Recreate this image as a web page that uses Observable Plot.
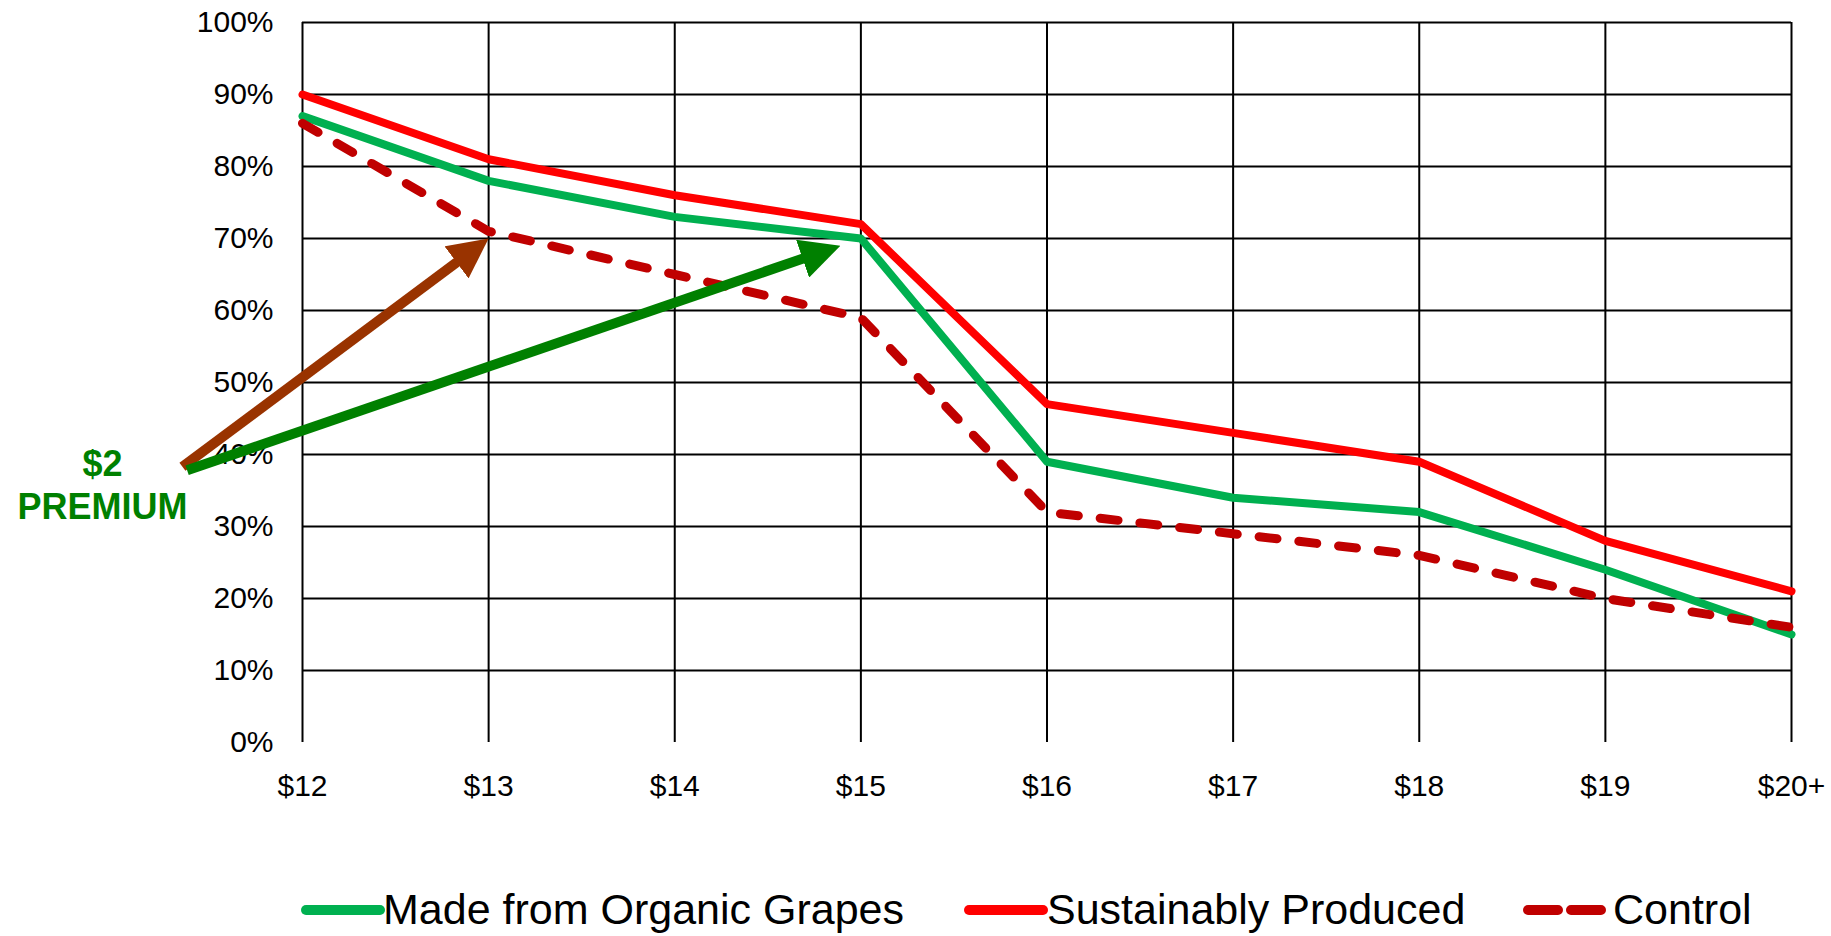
<!DOCTYPE html>
<html>
<head>
<meta charset="utf-8">
<script src="https://cdn.jsdelivr.net/npm/d3@7"></script>
<script src="https://cdn.jsdelivr.net/npm/@observablehq/plot@0.6"></script>
<style>
  body { margin: 0; background: #fff; width: 1831px; height: 936px; overflow: hidden; position: relative; font-family: "Liberation Sans", Arial, sans-serif; }
  #chart { position: absolute; left: 0; top: 0; }
  .legend-item { position: absolute; font-size: 43px; line-height: 42px; color: #000; white-space: nowrap; }
  .legend-swatch { position: absolute; }
</style>
</head>
<body>
<div id="chart"></div>
<div id="legend"></div>
<script>
// ---- data ----
const prices = ["$12", "$13", "$14", "$15", "$16", "$17", "$18", "$19", "$20+"];
const organic = [87, 78, 73, 70, 39, 34, 32, 24, 15];
const sustainable = [90, 81, 76, 72, 47, 43, 39, 28, 21];
const control = [86, 71, 65, 59, 32, 29, 26, 20, 16];
const seriesNames = ["Made from Organic Grapes", "Sustainably Produced", "Control"];
const seriesColors = ["#00b050", "#ff0000", "#c00000"];
const yTicks = [0, 10, 20, 30, 40, 50, 60, 70, 80, 90, 100];
// premium arrows (x in price-index units, y in %)
const arrowX1 = [-0.645, -0.62];
const arrowY1 = [38.3, 37.8];
const arrowX2 = [1.0, 2.89];
const arrowY2 = [70, 69];
const arrowColors = ["#993300", "#008000"];
const premiumLines = ["$2", "PREMIUM"];
const premiumX = [-1.075, -1.075];
const premiumY = [38.6, 32.7];

const idx = d3.range(prices.length);
const arrowIdx = d3.range(arrowX1.length);
const premIdx = d3.range(premiumLines.length);
const dataFor = vals => idx.map(i => ({i, v: vals[i]}));

const plot = Plot.plot({
  width: 1831,
  height: 830,
  marginTop: 22,
  marginLeft: 302,
  marginRight: 40,
  marginBottom: 88,
  style: { fontFamily: "Liberation Sans, Arial, sans-serif", fontSize: "30px", color: "#000", background: "transparent", overflow: "visible" },
  x: { type: "linear", domain: [0, prices.length - 1] },
  y: { domain: [0, 100] },
  marks: [
    Plot.gridY(yTicks.filter(d => d > 0), { stroke: "#000", strokeOpacity: 1, strokeWidth: 2 }),
    Plot.gridX(idx, { stroke: "#000", strokeOpacity: 1, strokeWidth: 2 }),
    Plot.axisY(yTicks, { label: null, tickSize: 0, tickPadding: 29, tickFormat: d => d + "%", fontSize: 30 }),
    Plot.axisX(idx, { label: null, tickSize: 0, tickPadding: 32, tickFormat: i => prices[i], fontSize: 30 }),
    Plot.line(dataFor(organic), { x: "i", y: "v", stroke: seriesColors[0], strokeWidth: 8, strokeLinejoin: "round" }),
    Plot.line(dataFor(sustainable), { x: "i", y: "v", stroke: seriesColors[1], strokeWidth: 8, strokeLinejoin: "round" }),
    Plot.line(dataFor(control), { x: "i", y: "v", stroke: seriesColors[2], strokeWidth: 9, strokeLinecap: "round", strokeLinejoin: "round", strokeDasharray: "18,22" }),
    Plot.link(arrowIdx, { x1: i => arrowX1[i], y1: i => arrowY1[i], x2: i => arrowX2[i], y2: i => arrowY2[i], stroke: i => arrowColors[i], strokeWidth: 10 }),
    Plot.text(premIdx, { x: i => premiumX[i], y: i => premiumY[i], text: i => premiumLines[i], fill: "#008000", fontWeight: "bold", fontSize: 36, textAnchor: "middle" })
  ]
});
document.getElementById("chart").appendChild(plot);

// arrowheads: filled triangles
const svg = d3.select(plot);
const defs = svg.append("defs");
const linkPaths = svg.selectAll('g[aria-label="link"] path');
linkPaths.each(function(d, k) {
  const color = d3.select(this).attr("stroke") || arrowColors[k];
  const id = "arrowhead-" + k;
  defs.append("marker")
    .attr("id", id)
    .attr("viewBox", "0 0 40 40")
    .attr("markerWidth", 40)
    .attr("markerHeight", 40)
    .attr("markerUnits", "userSpaceOnUse")
    .attr("refX", 40)
    .attr("refY", 20)
    .attr("orient", "auto")
    .append("path")
    .attr("d", "M0,0L40,20L0,40Z")
    .attr("fill", color);
  const len = this.getTotalLength();
  d3.select(this)
    .attr("marker-end", `url(#${id})`)
    .attr("stroke-dasharray", `${len - 25} ${len + 100}`);
});

// legend
const legend = document.getElementById("legend");
const swatchLeft = [306, 969, 1528];
const textLeft = [383, 1047, 1613];
seriesNames.forEach((name, k) => {
  const s = document.createElementNS("http://www.w3.org/2000/svg", "svg");
  s.setAttribute("class", "legend-swatch");
  s.setAttribute("width", 90);
  s.setAttribute("height", 20);
  s.style.left = (swatchLeft[k] - 5) + "px";
  s.style.top = "900px";
  const ln = document.createElementNS("http://www.w3.org/2000/svg", "line");
  ln.setAttribute("x1", 5);
  ln.setAttribute("x2", k === 2 ? 81 : 79);
  ln.setAttribute("y1", 10);
  ln.setAttribute("y2", 10);
  ln.setAttribute("stroke", seriesColors[k]);
  ln.setAttribute("stroke-width", 10);
  ln.setAttribute("stroke-linecap", "round");
  if (k === 2) ln.setAttribute("stroke-dasharray", "30,13");
  s.appendChild(ln);
  legend.appendChild(s);
  const t = document.createElement("div");
  t.className = "legend-item";
  t.style.left = textLeft[k] + "px";
  t.style.top = "888px";
  t.textContent = name;
  legend.appendChild(t);
});
</script>
</body>
</html>
